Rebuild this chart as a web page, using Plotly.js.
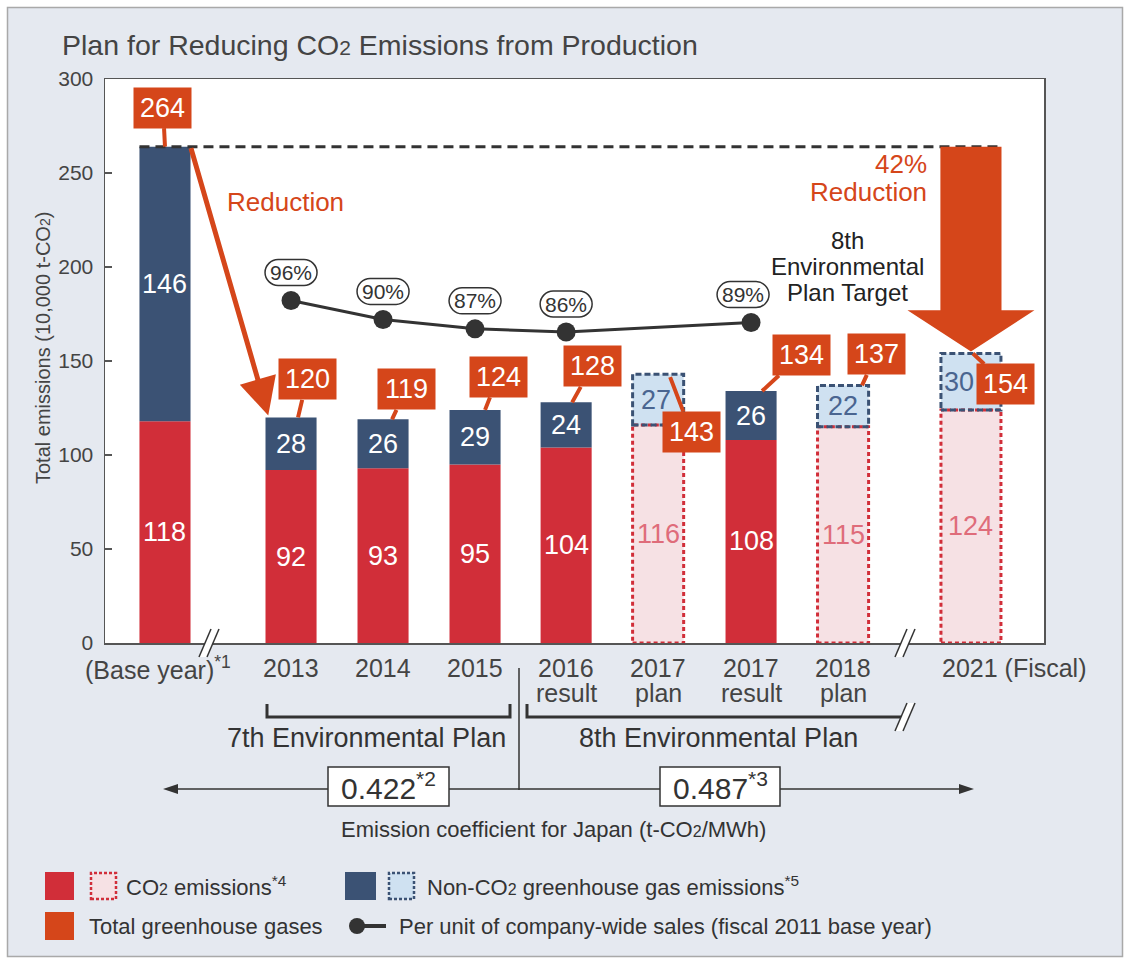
<!DOCTYPE html>
<html><head><meta charset="utf-8">
<script src="https://cdn.plot.ly/plotly-3.0.1.min.js"></script>
<style>html,body{margin:0;padding:0;background:#fff;} #chart{width:1130px;height:964px;}</style>
</head><body><div id="chart"></div>
<script>
// ---------------- data ----------------
const categories = ['(Base year)','2013','2014','2015','2016 result','2017 plan','2017 result','2018 plan','2021 (Fiscal)'];
const labelTop = ['(Base year)<sup>*1</sup>','2013','2014','2015','2016','2017','2017','2018','2021 (Fiscal)'];
const labelSub = ['','','','','result','plan','result','plan',''];
const co2 = [118,92,93,95,104,116,108,115,124];
const nonCo2 = [146,28,26,29,24,27,26,22,30];
const totals = [264,120,119,124,128,143,134,137,154];
const isPlan = [false,false,false,false,false,true,false,true,true];
const intensityCats = ['2013','2014','2015','2016 result','2017 result'];
const intensity = [96,90,87,86,89];
const coefValues = ['0.422','0.487'];
const coefNotes = ['*2','*3'];
const planNames = ['7th Environmental Plan','8th Environmental Plan'];
const targetText = ['8th','Environmental','Plan Target'];
const reductionText = ['42%','Reduction'];

// ---------------- layout positions / styles ----------------
const xPos = [0,1.37,2.37,3.37,4.36,5.36,6.37,7.37,8.76];
const barW = [0.555,0.555,0.555,0.555,0.555,0.555,0.555,0.555,0.652];
const tagTipDx = [0,7,9,10,6,12,11,19,2];
const tagAx = [-2,9,14,13,20,21,39,14,33];
const tagAy = [-39,-38,-30,-33,-36,55,-36,-31,31];
const tagYs = [0,0,0,0,0,-3,0,0,0];
const nonCo2LabelDx = [0,0,0,0,0,-2,0,0,-12];
const pctDx = [0,0,0,0,-8];

const RED='#d12e39', NAVY='#3b5274', ORANGE='#d5461a', PINK='#f6e1e4', LBLUE='#cfe1f1',
      BG='#e5e9f0', DARK='#333333', TXT='#444444', PLANRED='#df6c7a', PLANNAVY='#4a6590';
const FONT='Liberation Sans, Arial, Helvetica, sans-serif';

const L=105, T=79, W=939, H=564;
const px = x => (x - L)/W;
const py = y => (T + H - y)/H;

const idx = c => categories.indexOf(c);
const solid = [], plan = [];
categories.forEach((c,i)=> (isPlan[i]?plan:solid).push(i));

const traces = [
  {type:'bar', x: solid.map(i=>xPos[i]), y: solid.map(i=>co2[i]), base: solid.map(()=>0),
   width: solid.map(i=>barW[i]), marker:{color:RED}, hoverinfo:'skip', name:'CO2'},
  {type:'bar', x: solid.map(i=>xPos[i]), y: solid.map(i=>nonCo2[i]), base: solid.map(i=>co2[i]),
   width: solid.map(i=>barW[i]), marker:{color:NAVY}, hoverinfo:'skip', name:'Non-CO2'},
  {type:'bar', x: plan.map(i=>xPos[i]), y: plan.map(i=>co2[i]), base: plan.map(()=>0),
   width: plan.map(i=>barW[i]), marker:{color:PINK}, hoverinfo:'skip', name:'CO2 plan'},
  {type:'bar', x: plan.map(i=>xPos[i]), y: plan.map(i=>nonCo2[i]), base: plan.map(i=>co2[i]),
   width: plan.map(i=>barW[i]), marker:{color:LBLUE}, hoverinfo:'skip', name:'Non-CO2 plan'},
  {type:'scatter', mode:'lines+markers', x: intensityCats.map(c=>xPos[idx(c)]), y: intensity, yaxis:'y2',
   line:{color:DARK, width:3}, marker:{color:DARK, size:19}, hoverinfo:'skip', name:'Per unit'}
];

const shapes = [];
const ann = [];
const pann = (x, y, text, size, color, o) => ann.push(Object.assign({xref:'paper', yref:'paper', x:px(x), y:py(y),
  xanchor:'center', yanchor:'middle', showarrow:false, text, font:{family:FONT, size, color}}, o||{}));

// outer frame
shapes.push({type:'rect', xref:'paper', yref:'paper', x0:px(0), x1:px(1130), y0:py(0), y1:py(964),
  line:{color:'#ffffff', width:14}, fillcolor:'rgba(0,0,0,0)', layer:'above'});
shapes.push({type:'rect', xref:'paper', yref:'paper', x0:px(7.5), x1:px(1122.5), y0:py(7.5), y1:py(956.5),
  line:{color:'#a9a9a9', width:1.5}, fillcolor:'rgba(0,0,0,0)', layer:'above'});

// plan bar outlines
plan.forEach(i=>{
  const x0 = xPos[i]-barW[i]/2, x1 = xPos[i]+barW[i]/2;
  shapes.push({type:'rect', xref:'x', yref:'y', x0, x1, y0:0, y1:co2[i],
    line:{color:RED, width:3, dash:'4px,3px'}, fillcolor:'rgba(0,0,0,0)'});
  shapes.push({type:'rect', xref:'x', yref:'y', x0, x1, y0:co2[i], y1:totals[i],
    line:{color:NAVY, width:3, dash:'6px,3px'}, fillcolor:'rgba(0,0,0,0)'});
});

// dashed base line
const last = categories.length-1;
shapes.push({type:'line', xref:'x', yref:'y', x0:xPos[0]-barW[0]/2, x1:xPos[last]+barW[last]/2,
  y0:totals[0], y1:totals[0], line:{color:DARK, width:3, dash:'10px,6px'}});

// big arrow to target
{
  const xs=xPos[last], sw=0.332, hw=0.69, top=totals[0], headY=totals[last]+23, tip=totals[last]+1;
  shapes.push({type:'path', xref:'x', yref:'y',
    path:`M ${xs-sw} ${top} L ${xs+sw} ${top} L ${xs+sw} ${headY} L ${xs+hw} ${headY} L ${xs} ${tip} L ${xs-hw} ${headY} L ${xs-sw} ${headY} Z`,
    fillcolor:ORANGE, line:{width:0}});
}

// percentage stadium shapes
intensityCats.forEach((c,k)=>{
  const dx = pctDx[k], cy = 28, hw=26, r=13, k2=7;
  const p = `M ${dx-hw+r} ${cy+r} L ${dx+hw-r} ${cy+r} C ${dx+hw-r+k2} ${cy+r} ${dx+hw} ${cy+k2} ${dx+hw} ${cy} C ${dx+hw} ${cy-k2} ${dx+hw-r+k2} ${cy-r} ${dx+hw-r} ${cy-r} L ${dx-hw+r} ${cy-r} C ${dx-hw+r-k2} ${cy-r} ${dx-hw} ${cy-k2} ${dx-hw} ${cy} C ${dx-hw} ${cy+k2} ${dx-hw+r-k2} ${cy+r} ${dx-hw+r} ${cy+r} Z`;
  shapes.push({type:'path', xref:'x', yref:'y2', xsizemode:'pixel', ysizemode:'pixel',
    xanchor:xPos[idx(c)], yanchor:intensity[k], path:p, fillcolor:'#ffffff', line:{color:DARK, width:1.5}});
  ann.push({xref:'x', yref:'y2', x:xPos[idx(c)], y:intensity[k], xshift:dx, yshift:cy, showarrow:false,
    xanchor:'center', yanchor:'middle', text:intensity[k]+'%', font:{family:FONT, size:21, color:DARK}});
});

// paper helpers
const pline = (x0,y0,x1,y1,w,color)=>shapes.push({type:'line', xref:'paper', yref:'paper',
  x0:px(x0), y0:py(y0), x1:px(x1), y1:py(y1), line:{color:color||DARK, width:w}});
const ppath = (pts, fill, lw, lc, closed)=>shapes.push({type:'path', xref:'paper', yref:'paper',
  path: pts.map((p,j)=>(j?'L ':'M ')+px(p[0])+' '+py(p[1])).join(' ')+(closed?' Z':''),
  fillcolor: fill||'rgba(0,0,0,0)', line:{color:lc||DARK, width:lw||0}});
const breakMark = (cx,cy)=>{
  ppath([[cx-10,cy+14],[cx+2,cy-14],[cx+10,cy-14],[cx-2,cy+14]], '#ffffff', 0, '#ffffff', true);
  pline(cx-10,cy+14,cx+2,cy-14,1.5);
  pline(cx-2,cy+14,cx+10,cy-14,1.5);
};

// axis breaks
breakMark(209,643);
breakMark(905,643);

// plan brackets
ppath([[267,704],[267,717],[510,717],[510,704]], null, 3, DARK);
ppath([[527,704],[527,717],[902,717]], null, 3, DARK);
breakMark(905,717);
pline(519,668,519,790,1.5);

// coefficient double arrow
pline(175,789,962,789,1.5);
ppath([[163,789],[178,784],[178,794]], DARK, 0, DARK, true);
ppath([[974,789],[959,784],[959,794]], DARK, 0, DARK, true);
const coefBoxes = [[328,449],[660,780]];
coefValues.forEach((v,k)=>{
  const b = coefBoxes[k];
  shapes.push({type:'rect', xref:'paper', yref:'paper', x0:px(b[0]), x1:px(b[1]), y0:py(767), y1:py(806),
    fillcolor:'#ffffff', line:{color:DARK, width:1.5}});
  pann((b[0]+b[1])/2, 786, v+'<sup>'+coefNotes[k]+'</sup>', 30, DARK);
});
pann(553, 829, 'Emission coefficient for Japan (t-CO<span style="font-size:16px">2</span>/MWh)', 22, DARK);

// plan names
pann(366, 738, planNames[0], 27, DARK);
pann(718, 738, planNames[1], 27, DARK);

// x category labels
categories.forEach((c,i)=>{
  const isLast = i===last;
  ann.push({xref:'x', yref:'paper', x:xPos[i], y:py(668), showarrow:false, text:labelTop[i],
    xanchor: isLast?'left':'center', yanchor:'middle', xshift: isLast?-31:(i===0?-7:0),
    font:{family:FONT, size:25, color:TXT}});
  if(labelSub[i]) ann.push({xref:'x', yref:'paper', x:xPos[i], y:py(693), showarrow:false, text:labelSub[i],
    xanchor:'center', yanchor:'middle', font:{family:FONT, size:25, color:TXT}});
});

// bar value labels
categories.forEach((c,i)=>{
  ann.push({xref:'x', yref:'y', x:xPos[i], y:co2[i]/2, showarrow:false, text:String(co2[i]),
    xanchor:'center', yanchor:'middle', font:{family:FONT, size:27, color: isPlan[i]?PLANRED:'#ffffff'}});
  ann.push({xref:'x', yref:'y', x:xPos[i], y:co2[i]+nonCo2[i]/2, xshift:nonCo2LabelDx[i], showarrow:false, text:String(nonCo2[i]),
    xanchor:'center', yanchor:'middle', font:{family:FONT, size:27, color: isPlan[i]?PLANNAVY:'#ffffff'}});
});

// reduction arrow
ann.push({xref:'x', yref:'y', axref:'x', ayref:'y', x:xPos[1]-barW[1]/2+0.03, y:totals[1]+1,
  ax:xPos[0]+barW[0]/2, ay:totals[0], text:'', showarrow:true, arrowhead:2, arrowsize:1.5, arrowwidth:5, arrowcolor:ORANGE, standoff:0});
pann(225, 202, 'Reduction', 26, ORANGE, {xanchor:'left'});
reductionText.forEach((t,k)=>pann(929, 164+28*k, t, 26, ORANGE, {xanchor:'right'}));
targetText.forEach((t,k)=>pann(847, 240+26*k, t, 24, '#222'));

// total tags
categories.forEach((c,i)=>{
  ann.push({xref:'x', yref:'y', x:xPos[i], y:totals[i], xshift:tagTipDx[i], yshift:tagYs[i],
    text:String(totals[i]), showarrow:true, arrowhead:0, arrowwidth:4, arrowcolor:ORANGE, standoff:0,
    ax:tagAx[i], ay:tagAy[i], bgcolor:ORANGE, width:57, height:40, borderpad:0,
    font:{family:FONT, size:27, color:'#ffffff'}});
});

// title & y title
pann(60, 45, 'Plan for Reducing CO<span style="font-size:21px">2</span> Emissions from Production', 28.5, TXT, {xanchor:'left'});
pann(43, 348, 'Total emissions (10,000 t-CO<span style="font-size:14px">2</span>)', 20, TXT, {textangle:-90});

// legend
shapes.push({type:'rect', xref:'paper', yref:'paper', x0:px(45), x1:px(74), y0:py(900), y1:py(872), fillcolor:RED, line:{width:0}});
shapes.push({type:'rect', xref:'paper', yref:'paper', x0:px(91), x1:px(116), y0:py(899), y1:py(873), fillcolor:PINK, line:{color:RED, width:2.5, dash:'3px,2px'}});
pann(124, 886, 'CO<span style="font-size:16px">2</span> emissions<sup>*4</sup>', 22, DARK, {xanchor:'left'});
shapes.push({type:'rect', xref:'paper', yref:'paper', x0:px(345), x1:px(376), y0:py(900), y1:py(872), fillcolor:NAVY, line:{width:0}});
shapes.push({type:'rect', xref:'paper', yref:'paper', x0:px(389), x1:px(414), y0:py(899), y1:py(873), fillcolor:LBLUE, line:{color:NAVY, width:2.5, dash:'3px,2px'}});
pann(425, 886, 'Non-CO<span style="font-size:16px">2</span> greenhouse gas emissions<sup>*5</sup>', 22, DARK, {xanchor:'left'});
shapes.push({type:'rect', xref:'paper', yref:'paper', x0:px(45), x1:px(74), y0:py(940), y1:py(912), fillcolor:ORANGE, line:{width:0}});
pann(87, 926, 'Total greenhouse gases', 22, DARK, {xanchor:'left'});
pline(357,926,386,926,4);
shapes.push({type:'circle', xref:'paper', yref:'paper', x0:px(349), x1:px(365), y0:py(934), y1:py(918), fillcolor:DARK, line:{width:0}});
pann(397, 926, 'Per unit of company-wide sales (fiscal 2011 base year)', 22, DARK, {xanchor:'left'});

const layout = {
  width:1130, height:964,
  margin:{l:105, r:86, t:79, b:321, pad:0},
  paper_bgcolor:BG, plot_bgcolor:'#ffffff',
  showlegend:false, barmode:'overlay',
  font:{family:FONT, color:TXT},
  xaxis:{range:[-0.652, 9.554], showticklabels:false, ticks:'', showgrid:false, zeroline:false,
    showline:true, mirror:true, linecolor:'#555', linewidth:1.5, fixedrange:true},
  yaxis:{range:[0,300], tickvals:[0,50,100,150,200,250,300], ticks:'inside', ticklen:7, tickwidth:1.5, tickcolor:'#555',
    ticklabelstandoff:6, showgrid:false, zeroline:false, showline:true, mirror:true, linecolor:'#555', linewidth:1.5,
    tickfont:{family:FONT, size:21, color:TXT}, fixedrange:true},
  yaxis2:{overlaying:'y', range:[-12.7,166.3], visible:false, fixedrange:true},
  shapes, annotations:ann
};
Plotly.newPlot('chart', traces, layout, {displayModeBar:false, staticPlot:true});
</script></body></html>
